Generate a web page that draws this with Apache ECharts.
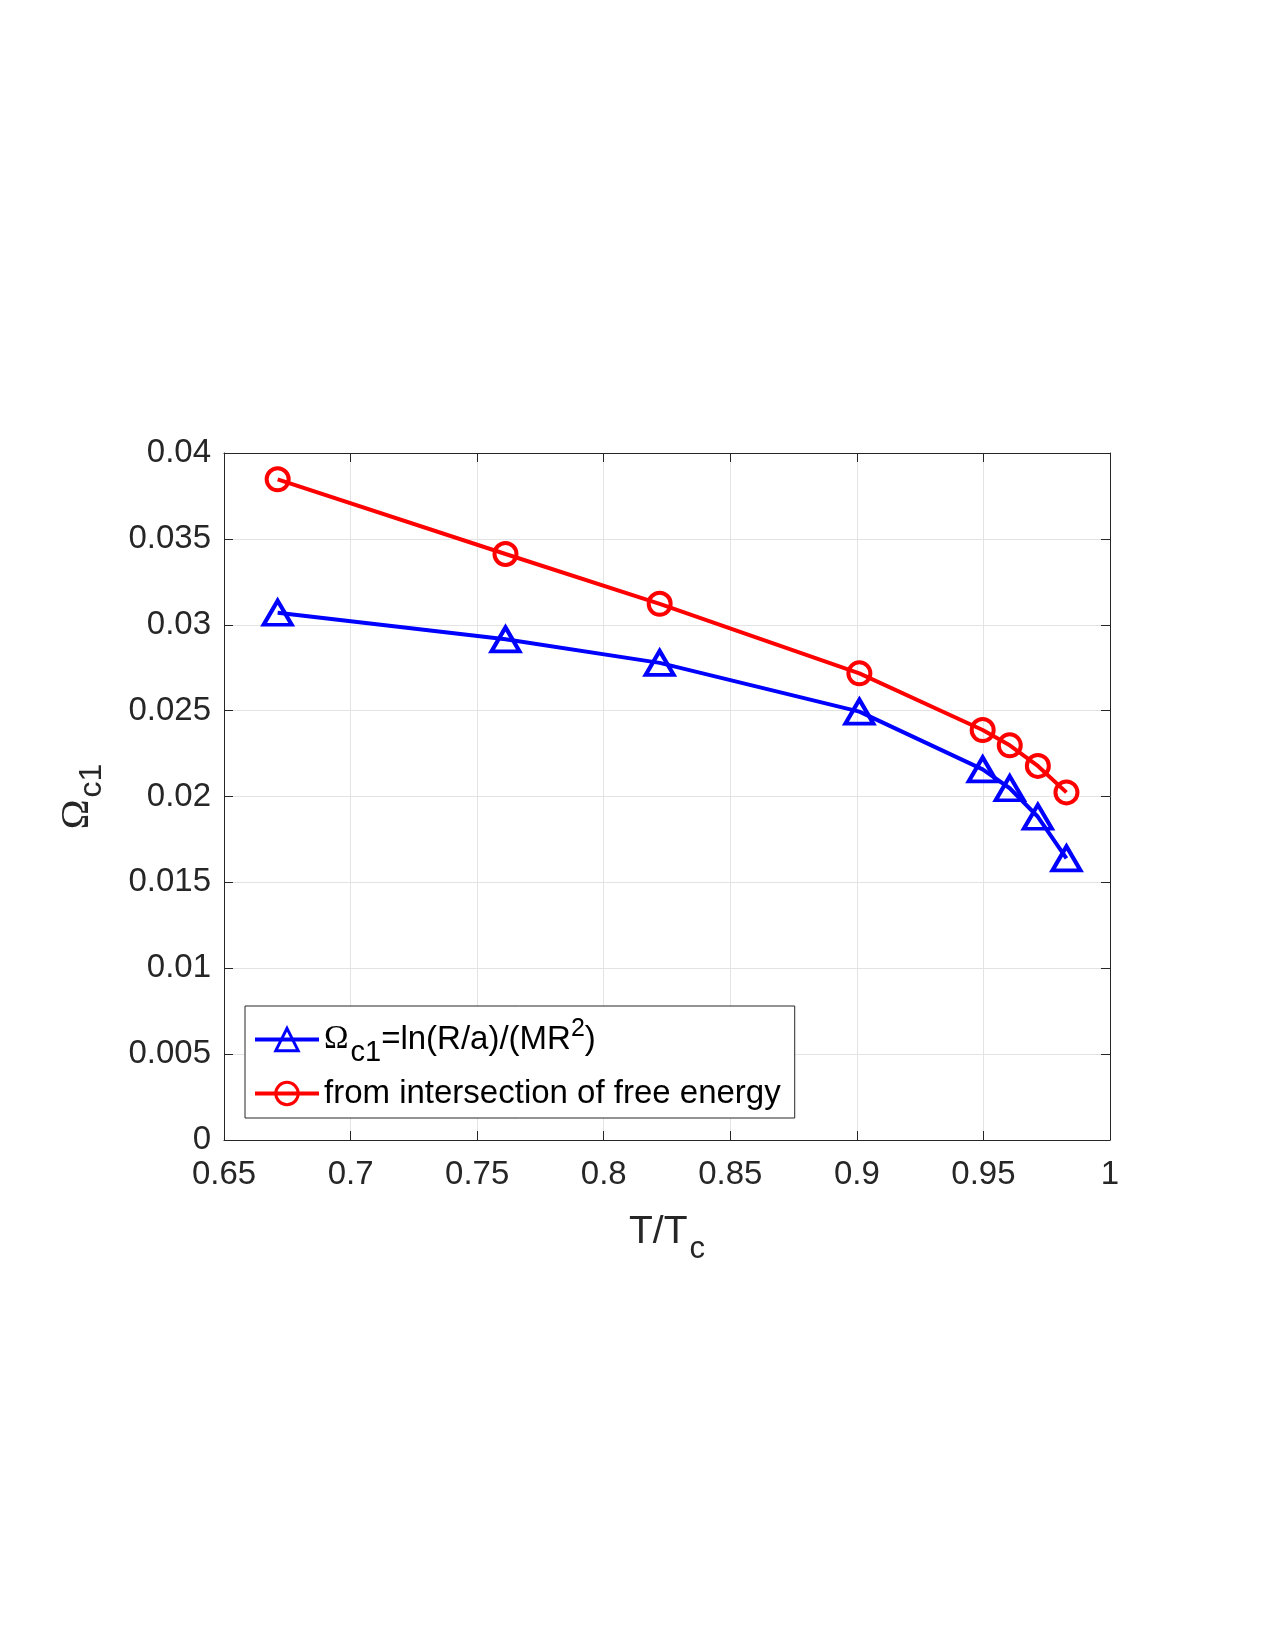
<!DOCTYPE html>
<html>
<head>
<meta charset="utf-8">
<script src="https://cdn.jsdelivr.net/npm/echarts@6/dist/echarts.min.js"></script>
<style>
html, body { margin: 0; padding: 0; background: #fff; }
#main { width: 1275px; height: 1650px; }
</style>
</head>
<body>
<div id="main"></div>
<script>
// T/Tc values (x)
var ratioT = [0.6712, 0.7612, 0.8221, 0.9010, 0.9497, 0.9604, 0.9715, 0.9828];
// Omega_c1 = ln(R/a)/(MR^2)
var omegaLn = [0.0307, 0.02915, 0.02778, 0.02494, 0.02158, 0.02048, 0.01882, 0.0164];
// from intersection of free energy
var omegaFree = [0.03847, 0.03412, 0.03122, 0.02717, 0.02387, 0.02298, 0.02178, 0.02024];

var xMin = 0.65, xMax = 1, xStep = 0.05;
var yMin = 0, yMax = 0.04, yStep = 0.005;

function pairs(xs, ys) {
    var out = [];
    for (var i = 0; i < xs.length; i++) {
        out.push([xs[i], ys[i]]);
    }
    return out;
}

var dom = document.getElementById("main");
var chart = echarts.init(dom);

var font = "'Liberation Sans', Arial, Helvetica, sans-serif";
var serif = "'Liberation Serif', 'Times New Roman', serif";
var ink = '#262626';

var axisLine = { show: true, onZero: false, lineStyle: { color: ink, width: 1 } };
var axisTick = { show: true, inside: true, length: 9, lineStyle: { color: ink } };
var grid = { show: true, lineStyle: { color: '#e3e3e3', width: 1 } };

var option = {
    animation: false,
    backgroundColor: '#fff',
    textStyle: { fontFamily: font },
    grid: { left: 224, right: 165, top: 453, bottom: 510, containLabel: false },
    xAxis: [
        {
            type: 'value', position: 'bottom', min: xMin, max: xMax, interval: xStep,
            axisLine: axisLine, axisTick: axisTick, splitLine: grid,
            axisLabel: {
                color: ink, fontSize: 33, fontFamily: font, margin: 18,
                formatter: function (v) { return String(parseFloat(v.toFixed(3))); }
            },
            name: '{m|T/T}{sub|c}',
            nameLocation: 'middle',
            nameGap: 60,
            nameTextStyle: {
                rich: {
                    m: { fontSize: 39, color: ink, fontFamily: font },
                    sub: { fontSize: 31, color: ink, fontFamily: font, padding: [34, 0, 0, 2] }
                }
            }
        },
        {
            type: 'value', position: 'top', min: xMin, max: xMax, interval: xStep,
            axisLine: axisLine, axisTick: axisTick,
            splitLine: { show: false }, axisLabel: { show: false }
        }
    ],
    yAxis: [
        {
            type: 'value', position: 'left', min: yMin, max: yMax, interval: yStep,
            axisLine: axisLine, axisTick: axisTick, splitLine: grid,
            axisLabel: {
                color: ink, fontSize: 33, fontFamily: font, margin: 13,
                formatter: function (v) { return String(parseFloat(v.toFixed(4))); }
            },
            name: '{o|Ω}{sub|c1}',
            nameLocation: 'middle',
            nameRotate: 90,
            nameGap: 116,
            nameTextStyle: {
                rich: {
                    o: { fontSize: 40, color: ink, fontFamily: serif },
                    sub: { fontSize: 32, color: ink, fontFamily: font, padding: [30, 0, 0, 2] }
                }
            }
        },
        {
            type: 'value', position: 'right', min: yMin, max: yMax, interval: yStep,
            axisLine: axisLine, axisTick: axisTick,
            splitLine: { show: false }, axisLabel: { show: false }
        }
    ],
    legend: {
        orient: 'vertical',
        left: 245,
        top: 1006,
        padding: [11, 14, 8, 8],
        itemGap: 10,
        itemWidth: 64,
        itemHeight: 28,
        backgroundColor: '#fff',
        borderColor: ink,
        borderWidth: 1,
        borderRadius: 0,
        lineStyle: { width: 4 },
        itemStyle: { borderWidth: 3 },
        data: ['omegaLn', 'omegaFree'],
        formatter: function (name) {
            if (name === 'omegaLn') {
                return '{o|Ω}{sub|c1}{t|=ln(R/a)/(MR}{sup|2}{t|)}';
            }
            return '{t|from intersection of free energy}';
        },
        textStyle: {
            color: '#000',
            rich: {
                t: { fontSize: 33, color: '#000', fontFamily: font },
                o: { fontSize: 33, color: '#000', fontFamily: serif },
                sub: { fontSize: 29, color: '#000', fontFamily: font, padding: [26, 0, 0, 2] },
                sup: { fontSize: 25, color: '#000', fontFamily: font, padding: [0, 0, 20, 0] }
            }
        }
    },
    series: [
        {
            name: 'omegaLn',
            type: 'line',
            xAxisIndex: 0, yAxisIndex: 0,
            data: pairs(ratioT, omegaLn),
            symbol: 'triangle',
            symbolSize: [28, 24],
            showAllSymbol: true,
            lineStyle: { color: '#0000ff', width: 4 },
            itemStyle: { color: 'rgba(0,0,0,0)', borderColor: '#0000ff', borderWidth: 4 },
            z: 3
        },
        {
            name: 'omegaFree',
            type: 'line',
            xAxisIndex: 0, yAxisIndex: 0,
            data: pairs(ratioT, omegaFree),
            symbol: 'circle',
            symbolSize: 22,
            showAllSymbol: true,
            lineStyle: { color: '#ff0000', width: 4 },
            itemStyle: { color: 'rgba(0,0,0,0)', borderColor: '#ff0000', borderWidth: 4 },
            z: 3
        }
    ]
};

chart.setOption(option);
</script>
</body>
</html>
